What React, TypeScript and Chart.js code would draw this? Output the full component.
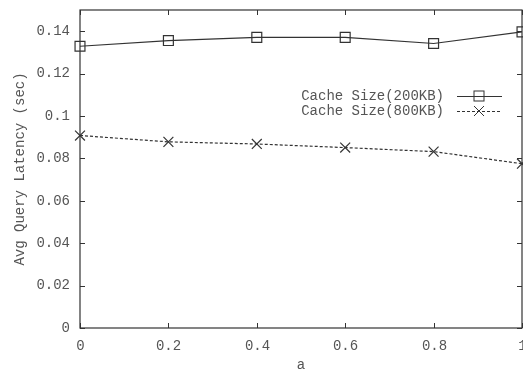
import React, { useEffect, useRef } from "react";
import { Chart, registerables } from "chart.js";
Chart.register(...registerables);

const xValues = [0, 0.2, 0.4, 0.6, 0.8, 1.0];
const series200 = [0.1329, 0.1356, 0.1371, 0.1371, 0.1342, 0.1397];
const series800 = [0.0908, 0.0878, 0.0868, 0.0851, 0.0832, 0.0775];
const seriesLabels = ["Cache Size(200KB)", "Cache Size(800KB)"];
const xTicks = [0, 0.2, 0.4, 0.6, 0.8, 1];
const yTicks = [0, 0.02, 0.04, 0.06, 0.08, 0.1, 0.12, 0.14];

const FONT = "'Liberation Mono', 'DejaVu Sans Mono', monospace";
const LINE = "#333333";
const TEXT = "#555555";

const framePlugin = {
  id: "frame",
  afterDatasetsDraw(chart: any) {
    const { ctx, chartArea: a, scales } = chart;
    ctx.save();
    ctx.strokeStyle = LINE;
    ctx.lineWidth = 1.2;
    ctx.strokeRect(a.left, a.top, a.right - a.left, a.bottom - a.top);
    ctx.lineWidth = 1;
    const t = 5;
    ctx.font = `14px ${FONT}`;
    ctx.fillStyle = TEXT;
    ctx.textAlign = "center";
    ctx.textBaseline = "middle";
    for (const v of xTicks) {
      const x = Math.round(scales.x.getPixelForValue(v)) + 0.5;
      ctx.beginPath();
      ctx.moveTo(x, a.bottom);
      ctx.lineTo(x, a.bottom - t);
      ctx.moveTo(x, a.top);
      ctx.lineTo(x, a.top + t);
      ctx.stroke();
      ctx.fillText(String(v), x, a.bottom + 18);
    }
    for (const v of yTicks) {
      const y = Math.round(scales.y.getPixelForValue(v)) + 0.5;
      ctx.beginPath();
      ctx.moveTo(a.left, y);
      ctx.lineTo(a.left + t, y);
      ctx.moveTo(a.right, y);
      ctx.lineTo(a.right - t, y);
      ctx.stroke();
    }
    // legend
    ctx.textAlign = "right";
    const rows = [
      { y: 96, dash: [] as number[], style: "rect" },
      { y: 111, dash: [3, 2], style: "cross" },
    ];
    rows.forEach((r, i) => {
      ctx.fillText(seriesLabels[i], 444, r.y);
      ctx.strokeStyle = LINE;
      ctx.setLineDash(r.dash);
      ctx.beginPath();
      ctx.moveTo(457, r.y + 0.5);
      ctx.lineTo(502, r.y + 0.5);
      ctx.stroke();
      ctx.setLineDash([]);
      const mx = 479;
      if (r.style === "rect") {
        ctx.strokeRect(mx - 5, r.y - 5, 10, 10);
      } else {
        ctx.beginPath();
        ctx.moveTo(mx - 5, r.y - 5);
        ctx.lineTo(mx + 5, r.y + 5);
        ctx.moveTo(mx + 5, r.y - 5);
        ctx.lineTo(mx - 5, r.y + 5);
        ctx.stroke();
      }
    });
    ctx.restore();
  },
};

export default function App() {
  const ref = useRef<HTMLCanvasElement>(null);
  useEffect(() => {
    document.body.style.margin = "0";
    const chart = new Chart(ref.current!, {
      type: "line",
      data: {
        datasets: [
          {
            label: seriesLabels[0],
            data: xValues.map((x, i) => ({ x, y: series200[i] })),
            borderColor: LINE,
            borderWidth: 1.2,
            pointStyle: "rect",
            pointRadius: 7,
            pointBorderColor: LINE,
            pointBackgroundColor: "rgba(0,0,0,0)",
            pointBorderWidth: 1.2,
            tension: 0,
            clip: false,
          },
          {
            label: seriesLabels[1],
            data: xValues.map((x, i) => ({ x, y: series800[i] })),
            borderColor: LINE,
            borderWidth: 1.2,
            borderDash: [3, 2],
            pointStyle: "crossRot",
            pointRadius: 7,
            pointBorderColor: LINE,
            pointBorderWidth: 1.2,
            tension: 0,
            clip: false,
          },
        ],
      },
      options: {
        animation: false,
        responsive: false,
        layout: { autoPadding: false, padding: { top: 10, right: 1, left: 0, bottom: 0 } },
        plugins: { legend: { display: false }, tooltip: { enabled: false } },
        scales: {
          x: {
            type: "linear",
            min: 0,
            max: 1,
            afterBuildTicks: (s: any) => {
              s.ticks = xTicks.map((v) => ({ value: v }));
            },
            afterFit: (s: any) => {
              s.height = 43;
            },
            grid: { display: false, drawTicks: false },
            border: { display: false },
            ticks: { display: false },
            title: {
              display: true,
              text: "a",
              color: TEXT,
              font: { family: FONT, size: 14 },
              padding: { top: 0, bottom: -3 },
            },
          },
          y: {
            min: 0,
            max: 0.15,
            afterBuildTicks: (s: any) => {
              s.ticks = yTicks.map((v) => ({ value: v }));
            },
            afterFit: (s: any) => {
              s.width = 80;
              s.paddingTop = 0;
              s.paddingBottom = 0;
            },
            grid: { display: false, drawTicks: false },
            border: { display: false },
            ticks: {
              padding: 10,
              color: TEXT,
              font: { family: FONT, size: 14 },
              callback: (v: any) => String(Math.round(v * 100) / 100),
            },
            title: {
              display: true,
              text: "Avg Query Latency (sec)",
              color: TEXT,
              font: { family: FONT, size: 14 },
              padding: { top: 12, bottom: 4 },
            },
          },
        },
      },
      plugins: [framePlugin],
    });
    return () => chart.destroy();
  }, []);
  return <canvas ref={ref} width={523} height={371} />;
}
